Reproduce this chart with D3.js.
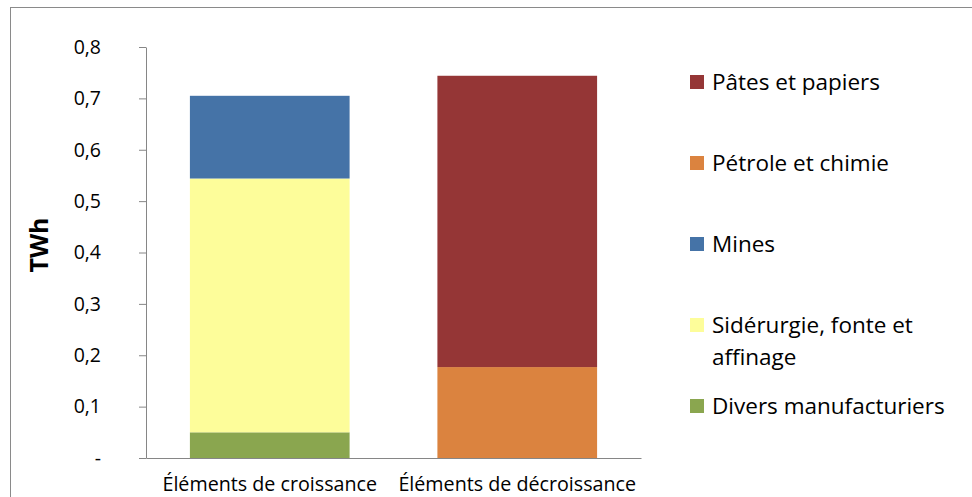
<!DOCTYPE html>
<html lang="fr">
  <head>
    <meta charset="utf-8">
    <script src="https://d3js.org/d3.v7.min.js"></script>
    <style>
    body { margin: 0; background: #fff; }
    svg { display: block; font-family: "Open Sans", sans-serif; }
    </style>
  </head>
  <body>
    <div id="place"></div>
    <script type="text/javascript">
    // categories and series (TWh)
    var categories = ["Éléments de croissance", "Éléments de décroissance"];
    var divers = [0.05, 0];
    var siderurgie = [0.494, 0];
    var mines = [0.161, 0];
    var petrole = [0, 0.177];
    var pates = [0, 0.567];
    var yTicks = [0, 0.1, 0.2, 0.3, 0.4, 0.5, 0.6, 0.7, 0.8];

    // stacked bottom to top
    var series = [
      { key: "Divers manufacturiers", values: divers, color: "#8aa64f" },
      { key: "Sidérurgie, fonte et affinage", values: siderurgie, color: "#fdfd9a" },
      { key: "Mines", values: mines, color: "#4573a7" },
      { key: "Pétrole et chimie", values: petrole, color: "#db833f" },
      { key: "Pâtes et papiers", values: pates, color: "#953636" }
    ];
    var legendLines = {
      "Sidérurgie, fonte et affinage": ["Sidérurgie, fonte et", "affinage"]
    };

    var width = 972, height = 497;
    var svg = d3.select('#place').append('svg')
      .attr('width', width)
      .attr('height', height);

    // chart frame
    svg.append('rect')
      .attr('x', 10.5).attr('y', 7.5)
      .attr('width', 980).attr('height', 520)
      .attr('fill', 'none')
      .attr('stroke', '#8a8a8a')
      .attr('stroke-width', 1);

    var plot = { left: 146, right: 641, top: 47, bottom: 458 };

    var rows = categories.map(function(c, i) {
      var r = { cat: c };
      series.forEach(function(s) { r[s.key] = s.values[i]; });
      return r;
    });
    var stacked = d3.stack().keys(series.map(function(s) { return s.key; }))(rows);

    var x = d3.scaleBand()
      .domain(categories)
      .range([plot.left, plot.right])
      .paddingInner(0.3548)
      .paddingOuter(0.1774);

    var y = d3.scaleLinear()
      .domain([0, 0.8])
      .range([plot.bottom, plot.top]);

    // bars
    var g = svg.append('g');
    stacked.forEach(function(layer, li) {
      g.selectAll(null)
        .data(layer)
        .enter().append('rect')
        .attr('x', function(d) { return x(d.data.cat); })
        .attr('width', x.bandwidth())
        .attr('y', function(d) { return y(d[1]); })
        .attr('height', function(d) { return y(d[0]) - y(d[1]); })
        .attr('fill', series[li].color);
    });

    // y axis
    var yAxis = d3.axisLeft(y)
      .tickValues(yTicks)
      .tickSize(7)
      .tickPadding(38)
      .tickSizeOuter(0)
      .tickFormat(function(d) { return d === 0 ? "-" : d3.format(".1f")(d).replace(".", ","); });
    var ya = svg.append('g')
      .attr('transform', 'translate(' + plot.left + ',0)')
      .call(yAxis);
    ya.attr('font-size', 19.5).attr('font-family', '"Open Sans", sans-serif');
    ya.select('.domain').attr('stroke', '#868686');
    ya.selectAll('.tick line').attr('stroke', '#868686');
    ya.selectAll('.tick text').attr('fill', '#000');

    // x axis
    var xAxis = d3.axisBottom(x).tickSize(0).tickPadding(19).tickSizeOuter(0);
    var xa = svg.append('g')
      .attr('transform', 'translate(0,' + plot.bottom + ')')
      .call(xAxis);
    xa.attr('font-size', 19.7).attr('font-family', '"Open Sans", sans-serif');
    xa.select('.domain').attr('stroke', '#868686');
    xa.selectAll('.tick text').attr('fill', '#000');

    // y label
    svg.append('text')
      .attr('transform', 'translate(48,245) rotate(-90)')
      .attr('text-anchor', 'middle')
      .attr('font-size', 25)
      .attr('font-weight', 'bold')
      .text('TWh');

    // legend
    var legend = svg.append('g');
    var legendOrder = series.slice().reverse();
    legendOrder.forEach(function(s, i) {
      var cy = 82 + i * 81;
      legend.append('rect')
        .attr('x', 690).attr('y', cy - 7)
        .attr('width', 14).attr('height', 14)
        .attr('fill', s.color);
      var lines = legendLines[s.key] || [s.key];
      var t = legend.append('text')
        .attr('x', 712).attr('y', cy)
        .attr('font-size', 22.5)
        .attr('fill', '#000');
      lines.forEach(function(line, j) {
        t.append('tspan')
          .attr('x', 712)
          .attr('dy', j === 0 ? '0.35em' : 32)
          .text(line);
      });
    });
    </script>
  </body>
</html>
